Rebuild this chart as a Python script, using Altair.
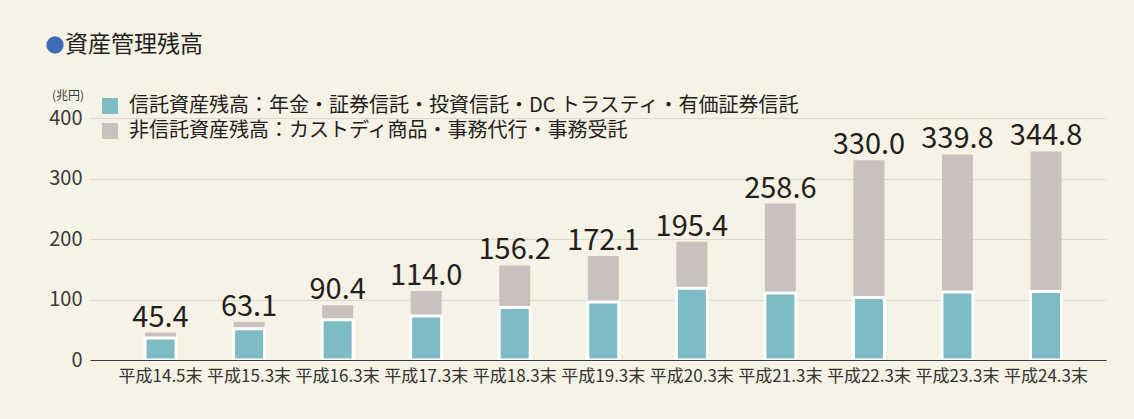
import altair as alt
import pandas as pd

periods = ["平成14.5末", "平成15.3末", "平成16.3末", "平成17.3末", "平成18.3末", "平成19.3末",
           "平成20.3末", "平成21.3末", "平成22.3末", "平成23.3末", "平成24.3末"]
totals = [45.4, 63.1, 90.4, 114.0, 156.2, 172.1, 195.4, 258.6, 330.0, 339.8, 344.8]
trust = [36.2, 51.6, 66.4, 72.6, 86.8, 95.7, 118.8, 110.6, 103.3, 112.2, 113.2]
series_names = ["信託資産残高：年金・証券信託・投資信託・DC トラスティ・有価証券信託",
                "非信託資産残高：カストディ商品・事務代行・事務受託"]
colors = ["#7dbcc5", "#c9c1be"]
y_ticks = [0, 100, 200, 300, 400]

FONT = "Noto Sans CJK JP"
BG = "#f6f2e5"

rows = []
for p, t, tot in zip(periods, trust, totals):
    rows.append({"period": p, "series": series_names[1], "lo": t, "hi": tot})
for p, t, tot in zip(periods, trust, totals):
    rows.append({"period": p, "series": series_names[0], "lo": 0, "hi": t})
df = pd.DataFrame(rows)

lab = pd.DataFrame({"period": periods, "total": totals,
                    "label": [f"{v:.1f}" for v in totals]})

xscale = alt.Scale(domain=periods, paddingInner=0.65, paddingOuter=0.562, align=0.553)
yscale = alt.Scale(domain=[0, 400], nice=False)

bars = alt.Chart(df).mark_bar(stroke="white").encode(
    x=alt.X("period:N", sort=periods, scale=xscale, title=None,
            axis=alt.Axis(labelAngle=0, ticks=False, grid=False, domainColor="#3a3a3a",
                          domainWidth=1.2, labelFont=FONT, labelFontSize=17,
                          labelColor="#333333", labelPadding=8, zindex=1)),
    y=alt.Y("hi:Q", scale=yscale, title=None,
            axis=alt.Axis(values=y_ticks, domain=False, ticks=False, gridColor="#d9d9d6",
                          gridWidth=1, labelFont=FONT, labelFontSize=20,
                          labelColor="#3a3a3a", labelPadding=8)),
    y2="lo:Q",
    color=alt.Color("series:N", scale=alt.Scale(domain=series_names, range=colors),
                    legend=alt.Legend(title=None, orient="none", legendX=10, legendY=-22,
                                      symbolType="square", symbolSize=256,
                                      symbolStrokeWidth=0, labelFont=FONT,
                                      labelFontSize=20, labelColor="#231f20",
                                      rowPadding=5, padding=0, labelOffset=9,
                                      labelLimit=1000)),
    strokeWidth=alt.condition(f"datum.series === '{series_names[0]}'",
                              alt.value(3), alt.value(0)),
)

labels = alt.Chart(lab).mark_text(dy=-6, baseline="alphabetic", fontSize=29,
                                  font=FONT, color="#231f20").encode(
    x=alt.X("period:N", sort=periods, scale=xscale),
    y=alt.Y("total:Q", scale=yscale),
    text="label:N",
)

bullet = alt.Chart(pd.DataFrame({"t": ["●"]})).mark_circle(
    size=300, color="#3d6bb8", opacity=1).encode(
    x=alt.value(-35), y=alt.value(-73))
title = alt.Chart(pd.DataFrame({"t": ["資産管理残高"]})).mark_text(
    align="left", baseline="middle", fontSize=23, font=FONT, color="#231f20").encode(
    x=alt.value(-25), y=alt.value(-73), text="t:N")
unit = alt.Chart(pd.DataFrame({"t": ["(兆円)"]})).mark_text(
    align="right", baseline="middle", fontSize=12, font=FONT, color="#3a3a3a").encode(
    x=alt.value(-6), y=alt.value(-22), text="t:N")

chart = alt.layer(bars, labels, bullet, title, unit).properties(
    width=1016, height=242,
    autosize=alt.AutoSizeParams(type="none"),
    padding={"left": 90, "top": 118, "right": 28, "bottom": 59},
    background=BG,
).configure_view(stroke=None)

chart.save("out.html", embed_options={"renderer": "svg", "actions": False})
